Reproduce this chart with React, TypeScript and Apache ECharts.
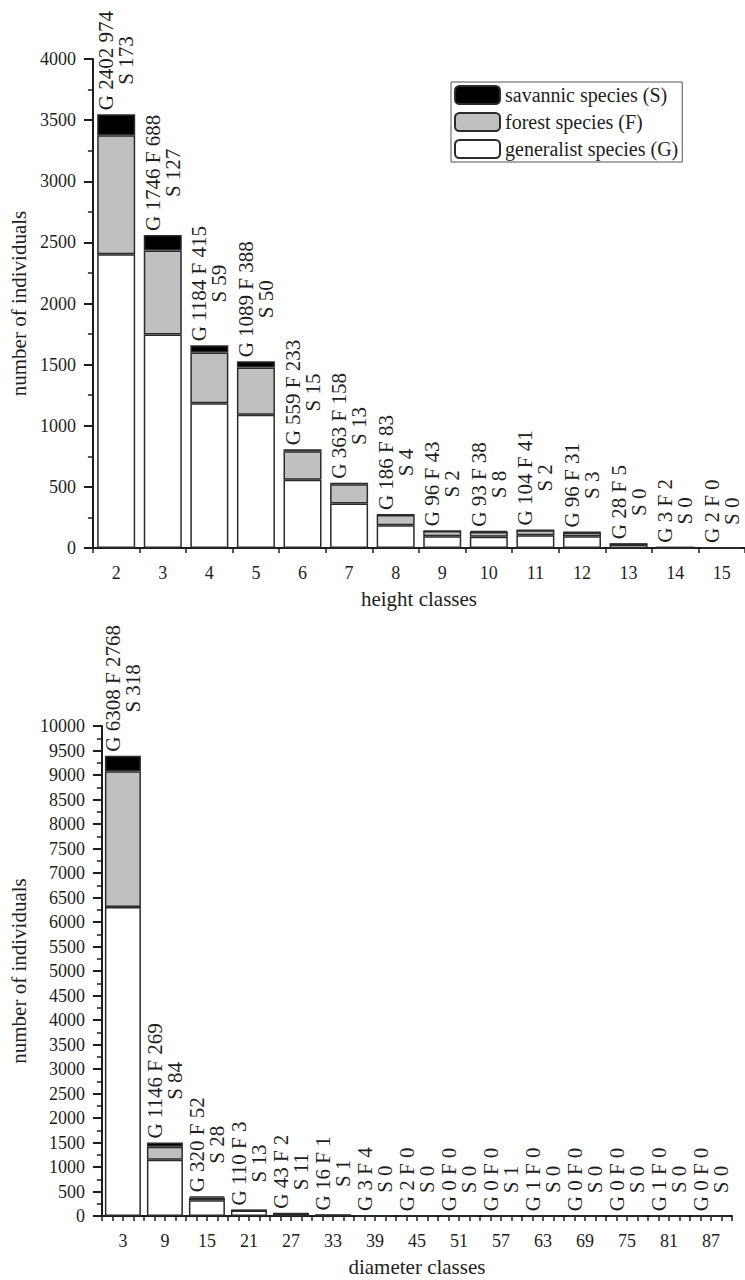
import React, { useEffect, useRef } from "react";
import * as echarts from "echarts";

// ---- data: height classes (top chart) ----
const heightClasses = ["2", "3", "4", "5", "6", "7", "8", "9", "10", "11", "12", "13", "14", "15"];
const heightG = [2402, 1746, 1184, 1089, 559, 363, 186, 96, 93, 104, 96, 28, 3, 2];
const heightF = [974, 688, 415, 388, 233, 158, 83, 43, 38, 41, 31, 5, 2, 0];
const heightS = [173, 127, 59, 50, 15, 13, 4, 2, 8, 2, 3, 0, 0, 0];

// ---- data: diameter classes (bottom chart) ----
const diameterClasses = ["3", "9", "15", "21", "27", "33", "39", "45", "51", "57", "63", "69", "75", "81", "87"];
const diameterG = [6308, 1146, 320, 110, 43, 16, 3, 2, 0, 0, 1, 0, 0, 1, 0];
const diameterF = [2768, 269, 52, 3, 2, 1, 4, 0, 0, 0, 0, 0, 0, 0, 0];
const diameterS = [318, 84, 28, 13, 11, 1, 0, 0, 0, 1, 0, 0, 0, 0, 0];

const seriesNames = ["savannic species (S)", "forest species (F)", "generalist species (G)"];
const heightAxisName = "height classes";
const diameterAxisName = "diameter classes";
const yAxisName = "number of individuals";

const FONT = "'Liberation Serif', 'Times New Roman', serif";
const INK = "#1e1e1e";

function topLines(G: number[], F: number[], omitFirstF: boolean) {
  return G.map((g, i) => (omitFirstF && i === 0 ? `G ${g} ${F[i]}` : `G ${g} F ${F[i]}`));
}

function makeSeries(xIdx: number, yIdx: number, G: number[], F: number[], S: number[], lines: string[], barWidth: number) {
  const stack = "st" + yIdx;
  const border = { borderColor: "#2b2b2b", borderWidth: 1.5 };
  return [
    {
      name: seriesNames[2], type: "bar", stack, xAxisIndex: xIdx, yAxisIndex: yIdx, barWidth,
      data: G, itemStyle: { color: "#ffffff", ...border },
    },
    {
      name: seriesNames[1], type: "bar", stack, xAxisIndex: xIdx, yAxisIndex: yIdx, barWidth,
      data: F, itemStyle: { color: "#c0c0c0", ...border },
    },
    {
      name: seriesNames[0], type: "bar", stack, xAxisIndex: xIdx, yAxisIndex: yIdx, barWidth,
      data: S, itemStyle: { color: "#000000", ...border },
      label: {
        show: true,
        position: "top",
        distance: 4,
        rotate: 90,
        align: "left",
        verticalAlign: "middle",
        formatter: (p: any) => `{a|${lines[p.dataIndex]}}\n{a|S ${S[p.dataIndex]}}`,
        rich: {
          a: { fontFamily: FONT, fontSize: 21, lineHeight: 20, color: INK, align: "center" },
        },
      },
    },
  ];
}

function catAxis(grid: number, data: string[], name: string) {
  return {
    type: "category", gridIndex: grid, data, position: "bottom",
    name, nameLocation: "middle", nameGap: 40,
    nameTextStyle: { fontFamily: FONT, fontSize: 21, color: INK },
    axisLine: { onZero: false, lineStyle: { color: INK, width: 2 } },
    axisTick: { alignWithLabel: true, length: 9, lineStyle: { color: INK, width: 2 } },
    axisLabel: { fontFamily: FONT, fontSize: 18, color: INK, margin: 16, interval: 0 },
    splitLine: { show: false },
  };
}

function tickAxis(grid: number, max: number, interval: number) {
  return {
    type: "value", gridIndex: grid, position: "bottom", min: 0, max, interval,
    axisLine: { show: false, onZero: false },
    axisTick: { show: true, length: 5, lineStyle: { color: INK, width: 1.5 } },
    axisLabel: { show: false },
    splitLine: { show: false },
  };
}

function valAxis(grid: number, max: number) {
  return {
    type: "value", gridIndex: grid, min: 0, max, interval: 500,
    name: yAxisName, nameLocation: "middle", nameGap: 62, nameRotate: 90,
    nameTextStyle: { fontFamily: FONT, fontSize: 21, color: INK },
    axisLine: { show: true, onZero: false, lineStyle: { color: INK, width: 2 } },
    axisTick: { show: true, length: 9, lineStyle: { color: INK, width: 2 } },
    minorTick: { show: true, splitNumber: 2, length: 5, lineStyle: { color: INK, width: 1.5 } },
    axisLabel: { fontFamily: FONT, fontSize: 18, color: INK, margin: 17, formatter: (v: number) => String(v) },
    splitLine: { show: false },
    minorSplitLine: { show: false },
  };
}

export default function App() {
  const ref = useRef<HTMLDivElement>(null);
  useEffect(() => {
    document.body.style.margin = "0";
    if (!ref.current) return;
    const chart = echarts.init(ref.current, undefined, { renderer: "svg" });
    const option: any = {
      animation: false,
      backgroundColor: "#ffffff",
      textStyle: { fontFamily: FONT },
      legend: {
        data: seriesNames,
        orient: "vertical",
        left: 451,
        top: 82,
        padding: [3, 4, 3, 3],
        itemWidth: 45,
        itemHeight: 18,
        itemGap: 7,
        borderColor: "#555",
        borderWidth: 1,
        textStyle: { fontFamily: FONT, fontSize: 20, color: INK, lineHeight: 18 },
        selectedMode: false,
      },
      grid: [
        { left: 89, top: 59, width: 659, height: 489 },
        { left: 90, top: 726, width: 642, height: 490 },
      ],
      xAxis: [
        catAxis(0, heightClasses, heightAxisName),
        tickAxis(0, heightClasses.length, 1),
        catAxis(1, diameterClasses, diameterAxisName),
        tickAxis(1, diameterClasses.length, 0.25),
      ],
      yAxis: [valAxis(0, 4000), valAxis(1, 10000)],
      series: [
        ...makeSeries(0, 0, heightG, heightF, heightS, topLines(heightG, heightF, true), 38),
        ...makeSeries(2, 1, diameterG, diameterF, diameterS, topLines(diameterG, diameterF, false), 36),
      ],
    };
    chart.setOption(option);
    return () => chart.dispose();
  }, []);
  return <div ref={ref} style={{ width: 745, height: 1280 }} />;
}
